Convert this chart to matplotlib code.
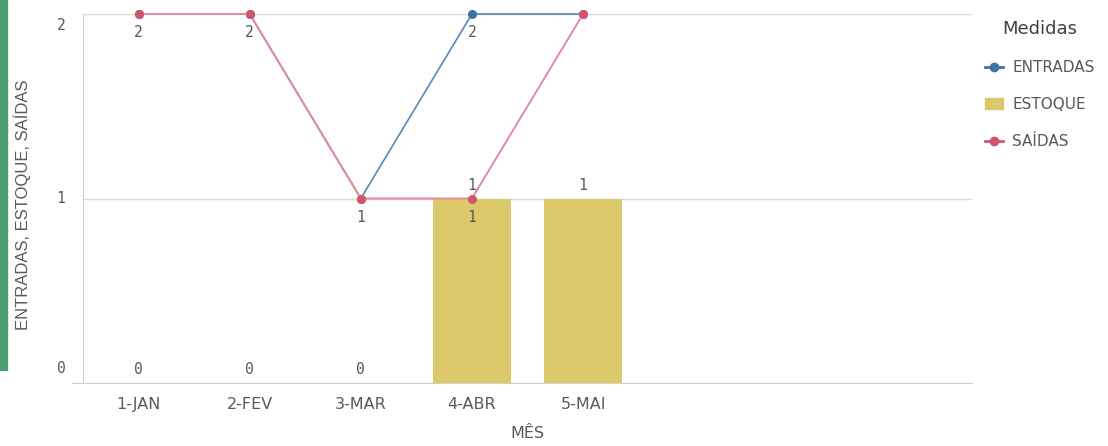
import numpy as np
import matplotlib.pyplot as plt
from matplotlib.lines import Line2D
from matplotlib.patches import Patch
from matplotlib.transforms import offset_copy

meses = ["1-JAN", "2-FEV", "3-MAR", "4-ABR", "5-MAI"]
entradas = [2, 2, 1, 2, 2]
estoque = [0, 0, 0, 1, 1]
saidas = [2, 2, 1, 1, 2]

n_slots = 8
azul = "#3b74a8"
rosa = "#d1566b"
amarelo = "#dcc96b"
cinza = "#595959"
mono = "DejaVu Sans Mono"

fig = plt.figure(figsize=(11.08, 4.46), dpi=100)
ax = fig.add_axes([83 / 1108, 1 - 383 / 446, (972 - 83) / 1108, (383 - 14) / 446])

x = np.arange(len(meses))
ax.bar(x, estoque, width=0.7, color=amarelo, zorder=2)
ax.plot(x, entradas, color=azul, lw=1.2, alpha=0.85, zorder=3, clip_on=False)
ax.plot(x, entradas, "o", color=azul, ms=5.5, zorder=4, clip_on=False)
ax.plot(x, saidas, color="#e58a98", lw=1.4, zorder=5, clip_on=False)
ax.plot(x, saidas, "o", color=rosa, ms=5.5, zorder=6, clip_on=False)

# rótulos de valor
for i in range(3):
    ax.text(x[i], entradas[i] - 0.06, str(entradas[i]), ha="center", va="top",
            fontsize=10.5, family=mono, color=cinza, zorder=7)
    ax.text(x[i], estoque[i] + 0.03, str(estoque[i]), ha="center", va="bottom",
            fontsize=10.5, family=mono, color=cinza, zorder=7)
ax.text(x[3], entradas[3] - 0.06, str(entradas[3]), ha="center", va="top",
        fontsize=10.5, family=mono, color=cinza, zorder=7)
ax.text(x[3], saidas[3] - 0.06, str(saidas[3]), ha="center", va="top",
        fontsize=10.5, family=mono, color=cinza, zorder=7)
for i in (3, 4):
    ax.text(x[i], estoque[i] + 0.03, str(estoque[i]), ha="center", va="bottom",
            fontsize=10.5, family=mono, color=cinza, zorder=7)

ax.set_xlim(-0.5, n_slots - 0.5)
ax.set_ylim(0, 2)
ax.set_xticks(x)
ax.set_xticklabels(meses, fontsize=11.5, color=cinza)
ax.set_yticks([0, 1, 2])
ax.set_yticklabels([])
ytr = offset_copy(ax.get_yaxis_transform(), fig=fig, x=-22, y=0, units="dots")
ax.text(0, 0.04, "0", transform=ytr, ha="center", va="bottom",
        fontsize=10.5, family=mono, color=cinza)
ax.text(0, 1, "1", transform=ytr, ha="center", va="center",
        fontsize=10.5, family=mono, color=cinza)
ax.text(0, 1.98, "2", transform=ytr, ha="center", va="top",
        fontsize=10.5, family=mono, color=cinza)
ax.tick_params(length=0, pad=10)
ax.grid(axis="y", color="#d9d9d9", lw=1, zorder=0)
for s in ["top", "right"]:
    ax.spines[s].set_visible(False)
ax.spines["left"].set_color("#d0d0d0")
ax.spines["bottom"].set_color("#d0d0d0")
ax.spines["bottom"].set_bounds(-0.6, n_slots - 0.5)

ax.set_xlabel("MÊS", fontsize=11.5, color=cinza, labelpad=10)
fig.text(22 / 1108, 1 - 205 / 446, "ENTRADAS, ESTOQUE, SAÍDAS", rotation=90,
         ha="center", va="center", fontsize=12, family="Liberation Sans",
         color=cinza)

# barra verde à esquerda
fig.patches.append(plt.Rectangle((0, 1 - 370 / 446), 7 / 1108, 370 / 446,
                                 transform=fig.transFigure, color="#4e9c72"))

handles = [
    Line2D([], [], color=azul, marker="o", ms=6, lw=2),
    Patch(color=amarelo),
    Line2D([], [], color=rosa, marker="o", ms=6, lw=2),
]
leg = fig.legend(handles, ["ENTRADAS", "ESTOQUE", "SAÍDAS"], title="Medidas",
                 loc="upper left", bbox_to_anchor=(971 / 1108, 1 - 6 / 446),
                 frameon=False, fontsize=11, title_fontsize=13,
                 handlelength=1.2, handletextpad=0.6, labelspacing=1.45)
for t in leg.get_texts():
    t.set_color(cinza)
leg.get_title().set_color("#404040")

fig.savefig("out.png", dpi=100)
